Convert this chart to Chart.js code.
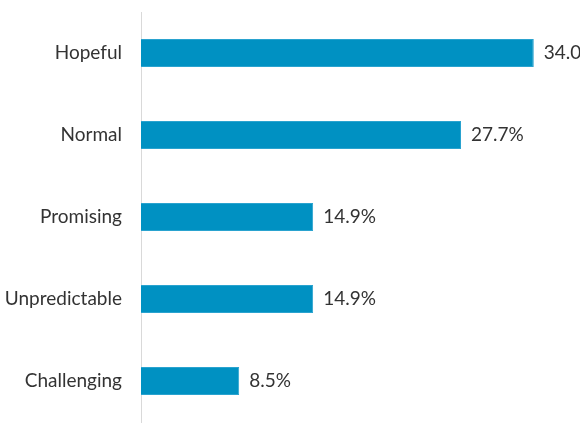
<!DOCTYPE html>
<html>
<head>
<meta charset="utf-8">
<script src="https://cdn.jsdelivr.net/npm/chart.js@4/dist/chart.umd.min.js"></script>
<style>
  body { margin: 0; background: #fff; }
  #wrap { width: 580px; height: 435px; }
</style>
</head>
<body>
<div id="wrap"><canvas id="myChart" width="580" height="435"></canvas></div>
<script>
const categories = ["Hopeful", "Normal", "Promising", "Unpredictable", "Challenging"];
const shares = [34.0, 27.7, 14.9, 14.9, 8.5];

// draw the "xx.x%" text right after each bar
const valueLabels = {
  id: "valueLabels",
  afterDatasetsDraw(chart) {
    const ctx = chart.ctx;
    const meta = chart.getDatasetMeta(0);
    ctx.save();
    ctx.font = "19px Lato";
    ctx.fillStyle = "#333333";
    ctx.textAlign = "left";
    ctx.textBaseline = "middle";
    meta.data.forEach((bar, i) => {
      ctx.fillText(shares[i].toFixed(1) + "%", bar.x + 10, bar.y);
    });
    ctx.restore();
  }
};

new Chart("myChart", {
  type: "bar",
  data: {
    labels: categories,
    datasets: [{
      data: shares,
      backgroundColor: "#0091c2",
      borderColor: "#2aa3cf",
      borderWidth: 1,
      categoryPercentage: 1,
      barPercentage: 0.34
    }]
  },
  options: {
    indexAxis: "y",
    responsive: false,
    animation: false,
    layout: { padding: { top: 12, bottom: 13, right: 0, left: 0 } },
    plugins: {
      legend: { display: false },
      tooltip: { enabled: false }
    },
    scales: {
      x: {
        display: false,
        min: 0,
        max: 38
      },
      y: {
        grid: { display: false, drawTicks: false },
        border: { display: true, color: "#d9d9d9", width: 1 },
        afterFit(scale) {
          scale.width = 141;
          scale.paddingTop = 0;
          scale.paddingBottom = 0;
        },
        ticks: {
          padding: 19,
          color: "#333333",
          font: { family: "Lato", size: 19 }
        }
      }
    }
  },
  plugins: [valueLabels]
});
</script>
</body>
</html>
